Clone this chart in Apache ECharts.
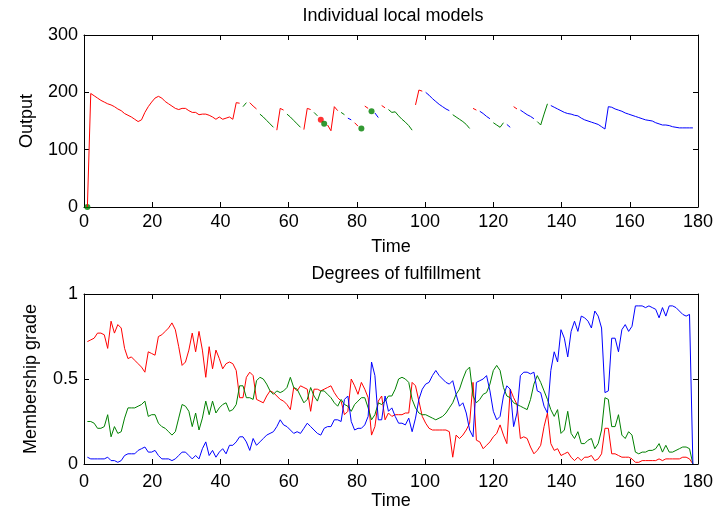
<!DOCTYPE html>
<html>
<head>
<meta charset="utf-8">
<script src="https://cdn.jsdelivr.net/npm/echarts@6/dist/echarts.min.js"></script>
<style>
  html, body { margin: 0; padding: 0; background: #fff; }
  #chart { width: 728px; height: 514px; }
</style>
</head>
<body>
<div id="chart"></div>
<script>
// Sampling period of the time axis (180 samples)
const SAMPLE_PERIOD = 0.9917;
const SAMPLE_COUNT = 180;

// Output of the dominant local model at each sample
const outputValue = [
  0,198,194,190,186,183,180,178,175,171,
  168,163,160,157,153,149,152,165,175,183,
  190,193,190,184,180,176,172,170,172,172,
  168,165,165,161,162,162,160,157,153,157,
  153,155,157,153,182,181,175,182,182,176,
  171,162,157,151,145,139,134,172,169,162,
  157,151,145,139,135,172,170,165,159,152,
  145,143,133,175,168,165,161,155,152,147,
  141,137,176,172,167,164,156,177,173,170,
  165,166,159,153,148,142,134,178,204,202,
  200,195,189,184,179,175,171,168,161,157,
  153,149,144,137,172,169,167,163,158,154,
  147,143,139,147,144,139,175,171,169,165,
  161,158,154,149,143,162,180,177,174,171,
  168,165,163,162,160,159,155,152,150,148,
  146,144,140,136,175,174,171,169,167,164,
  162,160,158,156,154,152,151,150,147,145,
  143,143,142,140,139,138,138,138,138,138
];

// Which local model is active: runs of [model, number of samples]
const modelRuns = [
  ['r',46],['g',2],['r',3],['g',5],['r',3],['g',5],['r',3],['g',2],['r',1],['g',1],
  ['r',4],['g',2],['b',2],['r',2],['g',1],['r',2],['g',1],['b',2],['r',2],['g',8],
  ['r',3],['b',8],['g',6],['r',2],['b',4],['g',4],['b',2],['r',2],['b',5],['g',4],
  ['b',43]
];

// Isolated samples drawn as markers
const markerSample = [1, 70, 71, 82, 85];
const markerModel  = ['g','r','g','g','g'];

// Degrees of fulfillment (membership grade) of the three local models
const gradeRed = [
  0.72,0.73,0.74,0.77,0.77,0.76,0.68,0.84,0.77,0.82,
  0.80,0.68,0.62,0.63,0.61,0.59,0.57,0.54,0.66,0.65,
  0.64,0.75,0.76,0.78,0.80,0.83,0.79,0.69,0.58,0.60,
  0.67,0.77,0.66,0.78,0.67,0.51,0.69,0.56,0.67,0.62,
  0.56,0.59,0.60,0.59,0.55,0.39,0.39,0.51,0.54,0.52,
  0.38,0.37,0.36,0.40,0.43,0.42,0.40,0.38,0.37,0.35,
  0.32,0.45,0.43,0.46,0.45,0.44,0.31,0.44,0.44,0.43,
  0.44,0.45,0.46,0.42,0.39,0.37,0.29,0.31,0.50,0.46,
  0.41,0.48,0.44,0.39,0.17,0.22,0.37,0.40,0.26,0.30,
  0.28,0.29,0.29,0.29,0.30,0.30,0.48,0.46,0.37,0.28,
  0.24,0.21,0.20,0.20,0.20,0.20,0.20,0.19,0.04,0.17,
  0.15,0.17,0.20,0.24,0.48,0.14,0.13,0.09,0.11,0.13,
  0.16,0.18,0.23,0.17,0.12,0.44,0.39,0.35,0.15,0.16,
  0.15,0.10,0.06,0.08,0.11,0.22,0.30,0.12,0.08,0.09,
  0.05,0.06,0.07,0.04,0.02,0.04,0.02,0.04,0.04,0.05,
  0.02,0.03,0.06,0.21,0.21,0.06,0.06,0.05,0.04,0.04,
  0.04,0.03,0.01,0.01,0.02,0.02,0.02,0.02,0.02,0.03,
  0.02,0.03,0.03,0.03,0.03,0.03,0.04,0.04,0.03,0.00
];

const gradeGreen = [
  0.25,0.25,0.24,0.21,0.21,0.22,0.29,0.16,0.22,0.18,
  0.19,0.27,0.33,0.33,0.33,0.34,0.35,0.37,0.28,0.29,
  0.29,0.24,0.22,0.21,0.19,0.17,0.19,0.27,0.35,0.34,
  0.31,0.22,0.30,0.20,0.27,0.37,0.29,0.37,0.30,0.33,
  0.35,0.36,0.31,0.32,0.35,0.46,0.46,0.39,0.39,0.38,
  0.49,0.51,0.50,0.47,0.43,0.41,0.43,0.42,0.43,0.45,
  0.51,0.45,0.44,0.40,0.36,0.38,0.45,0.40,0.37,0.43,
  0.43,0.41,0.39,0.36,0.34,0.38,0.35,0.34,0.31,0.35,
  0.37,0.39,0.39,0.33,0.26,0.29,0.36,0.35,0.37,0.40,
  0.40,0.44,0.50,0.51,0.50,0.48,0.38,0.33,0.30,0.29,
  0.29,0.28,0.27,0.26,0.27,0.28,0.30,0.33,0.36,0.41,
  0.44,0.50,0.55,0.57,0.40,0.36,0.38,0.41,0.42,0.47,
  0.55,0.58,0.55,0.45,0.40,0.39,0.36,0.35,0.34,0.33,
  0.32,0.38,0.47,0.52,0.48,0.43,0.38,0.32,0.28,0.32,
  0.18,0.20,0.31,0.18,0.15,0.19,0.12,0.12,0.14,0.15,
  0.09,0.12,0.20,0.39,0.38,0.22,0.22,0.29,0.17,0.15,
  0.19,0.17,0.07,0.06,0.07,0.07,0.08,0.08,0.09,0.12,
  0.07,0.11,0.07,0.07,0.08,0.09,0.10,0.10,0.09,0.00
];

const gradeBlue = [
  0.04,0.03,0.03,0.03,0.03,0.03,0.04,0.02,0.02,0.01,
  0.02,0.05,0.06,0.06,0.06,0.08,0.09,0.10,0.07,0.07,
  0.08,0.05,0.03,0.03,0.03,0.02,0.03,0.05,0.07,0.07,
  0.05,0.03,0.05,0.03,0.09,0.13,0.05,0.08,0.04,0.07,
  0.09,0.06,0.11,0.11,0.13,0.16,0.16,0.13,0.08,0.15,
  0.11,0.13,0.15,0.17,0.18,0.19,0.22,0.26,0.23,0.22,
  0.20,0.18,0.19,0.18,0.21,0.24,0.22,0.20,0.18,0.17,
  0.21,0.22,0.22,0.26,0.26,0.25,0.38,0.40,0.25,0.20,
  0.21,0.21,0.23,0.28,0.60,0.52,0.26,0.26,0.40,0.31,
  0.33,0.28,0.24,0.24,0.23,0.27,0.19,0.27,0.38,0.44,
  0.47,0.48,0.52,0.55,0.52,0.50,0.48,0.47,0.49,0.41,
  0.34,0.36,0.30,0.20,0.16,0.48,0.49,0.50,0.52,0.43,
  0.31,0.26,0.28,0.40,0.46,0.44,0.22,0.30,0.52,0.54,
  0.54,0.53,0.54,0.43,0.42,0.34,0.30,0.55,0.66,0.60,
  0.79,0.74,0.63,0.78,0.84,0.78,0.87,0.86,0.84,0.80,
  0.90,0.87,0.80,0.42,0.43,0.74,0.74,0.66,0.79,0.82,
  0.78,0.81,0.93,0.93,0.93,0.92,0.93,0.92,0.91,0.86,
  0.92,0.87,0.93,0.93,0.92,0.90,0.88,0.87,0.88,0.00
];

const timeTicks = { min: 0, max: 180, interval: 20 };
const outputTicks = { min: 0, max: 300, interval: 100 };
const gradeTicks = { min: 0, max: 1, interval: 0.5 };

const COLORS = { r: '#ff0000', g: '#008000', b: '#0000ff' };
const FONT = "'Liberation Sans', Arial, sans-serif";
const TICK_FONT = 18;
const NAME_FONT = 18;
const TITLE_FONT = 18;

const time = [];
for (let k = 1; k <= SAMPLE_COUNT; k++) time.push(k * SAMPLE_PERIOD);

const activeModel = [];
modelRuns.forEach(([m, n]) => { for (let i = 0; i < n; i++) activeModel.push(m); });

function outputSeries(m) {
  return {
    type: 'line', xAxisIndex: 0, yAxisIndex: 0,
    showSymbol: false, connectNulls: false, animation: false,
    lineStyle: { color: COLORS[m], width: 1 },
    data: time.map((t, i) => [t, activeModel[i] === m ? outputValue[i] : '-'])
  };
}

function markerSeries(m) {
  const pts = [];
  markerSample.forEach((s, j) => {
    if (markerModel[j] === m) pts.push([time[s - 1], outputValue[s - 1]]);
  });
  return {
    type: 'scatter', xAxisIndex: 0, yAxisIndex: 0, animation: false,
    symbol: 'circle', symbolSize: 6,
    itemStyle: { color: COLORS[m] },
    data: pts
  };
}

function gradeSeries(values, m) {
  return {
    type: 'line', xAxisIndex: 2, yAxisIndex: 2,
    showSymbol: false, animation: false,
    lineStyle: { color: COLORS[m], width: 1 },
    data: time.map((t, i) => [t, values[i]])
  };
}

const axisLine = { show: true, onZero: false, lineStyle: { color: '#000', width: 1 } };
const axisTick = { show: true, inside: true, length: 5, lineStyle: { color: '#000', width: 1 } };

function xPair(grid, labelMargin, nameGap) {
  return [
    {
      type: 'value', gridIndex: grid, position: 'bottom', ...timeTicks,
      axisLine, axisTick, splitLine: { show: false },
      axisLabel: { color: '#000', fontSize: TICK_FONT, fontFamily: FONT, margin: labelMargin },
      name: 'Time', nameLocation: 'middle', nameGap,
      nameTextStyle: { color: '#000', fontSize: NAME_FONT, fontFamily: FONT }
    },
    {
      type: 'value', gridIndex: grid, position: 'top', ...timeTicks,
      axisLine, axisTick, splitLine: { show: false }, axisLabel: { show: false }
    }
  ];
}

function yPair(grid, ticks, name, nameGap) {
  return [
    {
      type: 'value', gridIndex: grid, position: 'left', ...ticks,
      axisLine, axisTick, splitLine: { show: false },
      axisLabel: { color: '#000', fontSize: TICK_FONT, fontFamily: FONT, margin: 6 },
      name, nameLocation: 'middle', nameGap,
      nameTextStyle: { color: '#000', fontSize: NAME_FONT, fontFamily: FONT }
    },
    {
      type: 'value', gridIndex: grid, position: 'right', ...ticks,
      axisLine, axisTick, splitLine: { show: false }, axisLabel: { show: false }
    }
  ];
}

const chart = echarts.init(document.getElementById('chart'), null, { renderer: 'canvas' });
chart.setOption({
  backgroundColor: '#fff',
  animation: false,
  title: [
    { text: 'Individual local models', left: 388, top: 2, textAlign: 'center',
      textStyle: { color: '#000', fontSize: TITLE_FONT, fontWeight: 'normal', fontFamily: FONT } },
    { text: 'Degrees of fulfillment', left: 391, top: 260, textAlign: 'center',
      textStyle: { color: '#000', fontSize: TITLE_FONT, fontWeight: 'normal', fontFamily: FONT } }
  ],
  grid: [
    { left: 84, width: 614, top: 35, height: 172 },
    { left: 84, width: 614, top: 294, height: 170 }
  ],
  xAxis: [...xPair(0, 6, 31), ...xPair(1, 9, 23)],
  yAxis: [...yPair(0, outputTicks, 'Output', 48), ...yPair(1, gradeTicks, 'Membership grade', 44)],
  series: [
    outputSeries('r'), outputSeries('g'), outputSeries('b'),
    markerSeries('r'), markerSeries('g'),
    gradeSeries(gradeRed, 'r'), gradeSeries(gradeGreen, 'g'), gradeSeries(gradeBlue, 'b')
  ]
});
</script>
</body>
</html>
